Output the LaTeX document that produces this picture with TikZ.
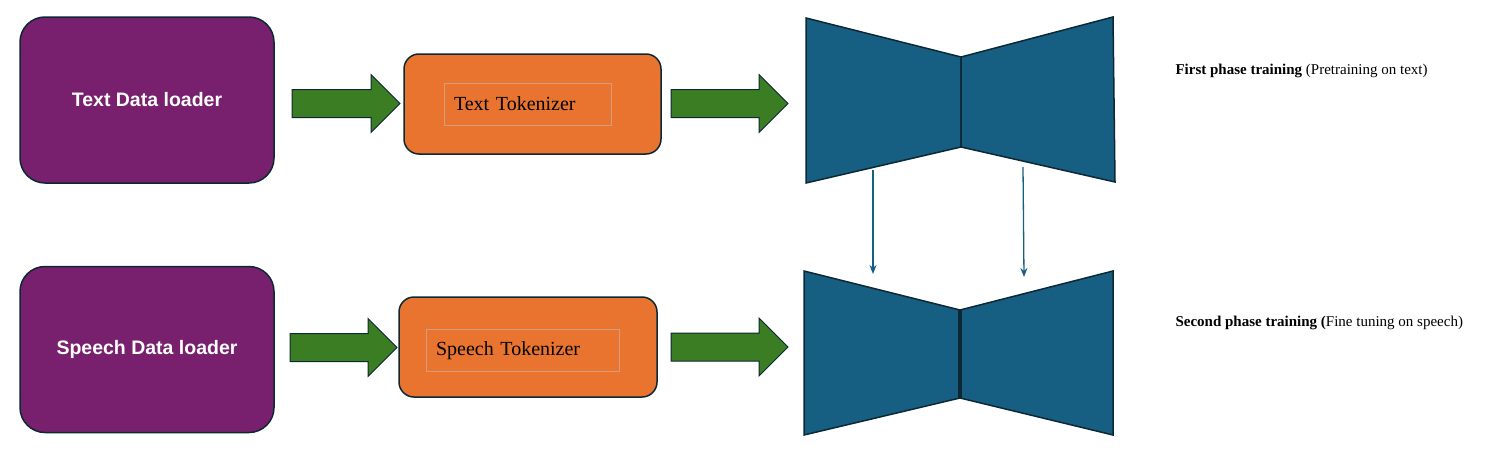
\documentclass[tikz,border=0pt]{standalone}
\usepackage{fontspec}
\setmainfont{Liberation Serif}
\newfontfamily\loaderfont{Liberation Sans}
\usepackage{tikz}
\usetikzlibrary{shapes.arrows,arrows.meta}
\definecolor{loaderpurple}{HTML}{78206E}
\definecolor{tokorange}{HTML}{E87430}
\definecolor{flowgreen}{HTML}{3B7D23}
\definecolor{modelblue}{HTML}{175F82}
\definecolor{edgedark}{HTML}{0D2835}
\definecolor{innerline}{HTML}{D59C7E}

\begin{document}
\begin{tikzpicture}[x=1pt, y=-1pt,
  loader/.style={draw=edgedark, line width=1.5pt, fill=loaderpurple, rounded corners=25pt,
    minimum width=254pt, minimum height=166pt, text=white,
    font=\loaderfont\bfseries\fontsize{19.5}{22}\selectfont},
  tokenizer/.style={draw=edgedark, line width=1.5pt, fill=tokorange, rounded corners=15pt,
    minimum height=100pt},
  toklabel/.style={draw=innerline, line width=1pt, align=left, inner xsep=10pt,
    minimum height=42pt, font=\fontsize{20}{24}\selectfont},
  flow/.style={single arrow, draw=edgedark, line width=1pt, fill=flowgreen, inner sep=0pt,
    text height=27pt, text depth=0pt, minimum width=57pt, single arrow head extend=15pt},
  half/.style={draw=edgedark, line width=1.5pt, fill=modelblue, line join=miter},
  copy/.style={-{Stealth[length=9pt, width=7pt]}, draw=modelblue, line width=1.3pt},
  phase/.style={anchor=west, font=\fontsize{15}{18}\selectfont},
]
\useasboundingbox (0,0) rectangle (1491,455);

% first row
\node[loader] (textloader) at (147,100) {Text Data loader};
\node[flow, minimum height=108pt] (textflowA) at (339,103.5) {};
\node[tokenizer, minimum width=257pt] (texttok) at (532.5,104) {};
\node[toklabel, text width=147pt] (texttoklabel) at (527.5,104) {Text Tokenizer};
\node[flow, minimum height=117pt] (textflowB) at (722.5,103.5) {};

% second row
\node[loader] (speechloader) at (147,349.5) {Speech Data loader};
\node[flow, minimum height=107pt] (speechflowA) at (336.5,347.5) {};
\node[tokenizer, minimum width=258pt] (speechtok) at (528,347) {};
\node[toklabel, text width=173pt] (speechtoklabel) at (522.5,350.5) {Speech Tokenizer};
\node[flow, minimum height=117pt] (speechflowB) at (722.5,347) {};

% model, first phase
\coordinate (upTL) at (806,18);
\coordinate (upBL) at (806,183);
\coordinate (upMT) at (961,57);
\coordinate (upMB) at (961,147);
\coordinate (upTR) at (1113,17);
\coordinate (upBR) at (1115,182);
\draw[half] (upTL) -- (upMT) -- (upMB) -- (upBL) -- cycle;
\draw[half] (upMT) -- (upTR) -- (upBR) -- (upMB) -- cycle;

% model, second phase
\coordinate (lowTL) at (804,271);
\coordinate (lowBL) at (804,435);
\coordinate (lowMT) at (960,310);
\coordinate (lowMB) at (960,398);
\coordinate (lowTR) at (1113,271);
\coordinate (lowBR) at (1113,435);
\draw[half] (lowTL) -- (lowMT) -- (lowMB) -- (lowBL) -- cycle;
\draw[half] (lowMT) -- (lowTR) -- (lowBR) -- (lowMB) -- cycle;
\draw[edgedark, line width=3.5pt] (lowMT) -- (lowMB);

% weights carried over
\coordinate (copyLa) at (873,170);
\coordinate (copyLb) at (873,274);
\coordinate (copyRa) at (1023,167);
\coordinate (copyRb) at (1024,277);
\draw[copy] (copyLa) -- (copyLb);
\draw[copy] (copyRa) -- (copyRb);

\node[phase] (phaseone) at (1172,71) {\textbf{First phase training} (Pretraining on text)};
\node[phase] (phasetwo) at (1172,323) {\textbf{Second phase training (}Fine tuning on speech)};
\end{tikzpicture}
\end{document}
